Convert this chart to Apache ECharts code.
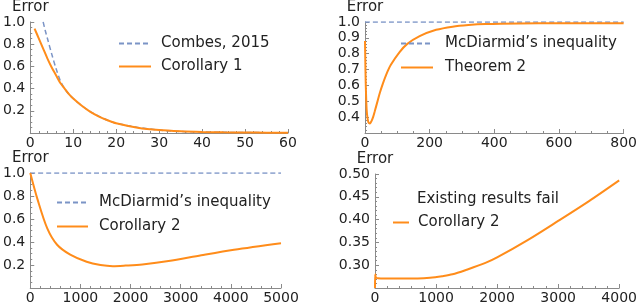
<!DOCTYPE html>
<html><head><meta charset="utf-8">
<script src="https://cdn.jsdelivr.net/npm/echarts@6/dist/echarts.min.js"></script>
<style>html,body{margin:0;padding:0;background:#fff}#c{width:640px;height:305px}</style>
</head><body><div id="c"></div>
<script>
// Panel 1
const p1X = [1,2,3,4,5,6,7,8,9,10,12,14,16,18,20,25,30,35,40,45,50,55,60];
const corollary1 = [0.94,0.85,0.76,0.67,0.59,0.52,0.45,0.40,0.35,0.31,0.245,0.19,0.148,0.115,0.088,0.048,0.026,0.015,0.009,0.006,0.004,0.003,0.002];
const combesX = [3,3.5,4,5,6,7,8,9,10,12,15,20,30,40,60];
const combes = [1.0,0.92,0.85,0.71,0.58,0.47,0.40,0.35,0.31,0.245,0.17,0.088,0.026,0.009,0.002];
// Panel 2
const p2X = [0,1,2,3,5,8,11,15,20,25,30,40,46,55,66,80,107,130,169,220,271,320,373,475,600,800];
const theorem2 = [0.88,0.75,0.64,0.56,0.45,0.39,0.365,0.36,0.375,0.40,0.435,0.51,0.554,0.61,0.67,0.73,0.81,0.86,0.91,0.95,0.97,0.98,0.986,0.99,0.991,0.991];
const mcd2X = [0,800];
const mcd2 = [1.0,1.0];
// Panel 3
const p3X = [0,143,339,535,797,1124,1400,1646,1900,2235,2757,3410,4063,5000];
const corollary2a = [1.0,0.773,0.518,0.376,0.29,0.228,0.20,0.19,0.195,0.205,0.234,0.285,0.333,0.39];
const mcd3X = [0,5000];
const mcd3 = [1.0,1.0];
// Panel 4
const p4X = [0,3,15,50,200,400,700,900,1100,1269,1500,1809,2000,2500,3000,3500,4000];
const corollary2b = [0.25,0.28,0.273,0.2715,0.271,0.2708,0.271,0.2725,0.276,0.28,0.29,0.305,0.317,0.355,0.397,0.44,0.486];

const names = {combes:'Combes, 2015', c1:'Corollary 1', mcd:'McDiarmid\u2019s inequality', t2:'Theorem 2', c2:'Corollary 2'};
const FONT = 'DejaVu Sans';
const AX = '#8a8a8a';
const BLUE = '#7b94c6';
const ORANGE = '#ff8c1a';
const pairs = (xs, ys) => xs.map((x,i)=>[x, ys[i]]);

function xa(g, min, max, interval, minor){
  return {type:'value', gridIndex:g, min, max, interval,
    axisLine:{show:true, onZero:false, lineStyle:{color:AX, width:1}},
    axisTick:{show:true, inside:true, length:4, lineStyle:{color:AX}},
    minorTick:{show:true, splitNumber:minor, length:2, lineStyle:{color:AX}},
    splitLine:{show:false},
    axisLabel:{fontFamily:FONT, fontSize:14, color:'#222', margin:3, formatter:v=>String(v)}};
}
function ya(g, min, max, interval, minor, dec){
  return {type:'value', gridIndex:g, min, max, interval,
    name:'Error', nameLocation:'end', nameGap:3,
    nameTextStyle:{fontFamily:FONT, fontSize:15, color:'#222', align:'center'},
    axisLine:{show:true, onZero:false, lineStyle:{color:AX, width:1}},
    axisTick:{show:true, inside:true, length:4, lineStyle:{color:AX}},
    minorTick:{show:true, splitNumber:minor, length:2, lineStyle:{color:AX}},
    splitLine:{show:false},
    axisLabel:{fontFamily:FONT, fontSize:14, color:'#222', margin:5, showMinLabel:false,
      formatter:v=>v.toFixed(dec)}};
}
function line(name, g, data, color, dashed){
  return {type:'line', name, xAxisIndex:g, yAxisIndex:g, data, symbol:'none', smooth:0.3,
    clip:true, silent:true,
    lineStyle:{color, width:dashed?1.5:2, type:dashed?[5,3]:'solid'}, itemStyle:{color}};
}
function legend(left, top, data, w, gap, pad){
  return {orient:'vertical', left, top, data, itemWidth:w, itemHeight:14, itemGap:gap,
    selectedMode:false, padding:0, itemStyle:{opacity:0},
    textStyle:{fontFamily:FONT, fontSize:15, color:'#222', padding:[0,0,0,pad]}};
}

const chart = echarts.init(document.getElementById('c'), null, {renderer:'canvas'});
chart.setOption({
  animation:false,
  grid:[
    {left:26, top:15, width:262, height:118},
    {left:365, top:15, width:261, height:118},
    {left:26, top:173, width:255, height:117},
    {left:375, top:174, width:247, height:116}
  ],
  xAxis:[xa(0,0,60,10,5), xa(1,0,800,200,4), xa(2,0,5000,1000,5), xa(3,0,4000,1000,5)],
  yAxis:[ya(0,0,1,0.2,4,1), ya(1,0.3,1,0.1,5,1), ya(2,0,1,0.2,4,1), ya(3,0.25,0.5,0.05,5,2)],
  legend:[
    legend(118,36,[names.combes,names.c1],32,8,5),
    legend(400,36,[names.mcd,names.t2],32,9,7),
    legend(56,195,[names.mcd,names.c2],31,9,6),
    {orient:'vertical', left:392, top:215, data:[{name:names.c2}], itemWidth:16, itemHeight:14,
     selectedMode:false, padding:0, itemStyle:{opacity:0},
     textStyle:{fontFamily:FONT, fontSize:15, color:'#222', padding:[0,0,0,4]}}
  ],
  graphic:[{type:'text', left:417, top:192, style:{text:'Existing results fail', font:'15px "DejaVu Sans"', fill:'#222'}}],
  series:[
    line(names.combes,0,pairs(combesX,combes),BLUE,true),
    line(names.c1,0,pairs(p1X,corollary1),ORANGE,false),
    line(names.mcd,1,pairs(mcd2X,mcd2),BLUE,true),
    line(names.t2,1,pairs(p2X,theorem2),ORANGE,false),
    line(names.mcd,2,pairs(mcd3X,mcd3),BLUE,true),
    line(names.c2,2,pairs(p3X,corollary2a),ORANGE,false),
    line(names.c2,3,pairs(p4X,corollary2b),ORANGE,false)
  ]
});
</script></body></html>
